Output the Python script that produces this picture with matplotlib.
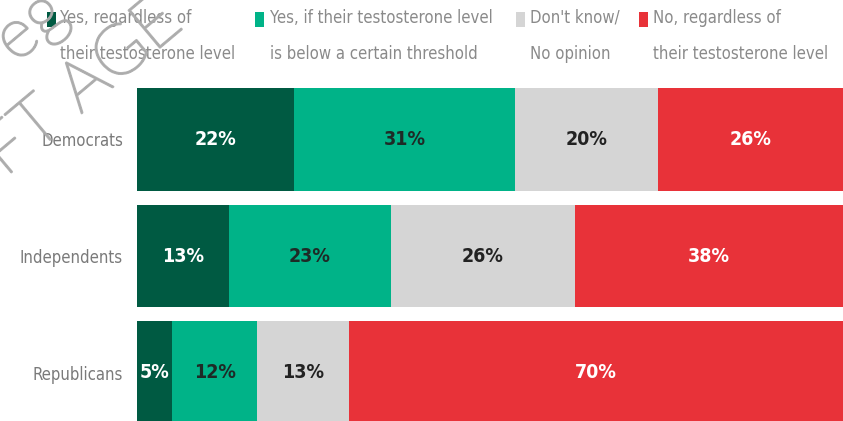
import matplotlib
matplotlib.use("Agg")
import matplotlib.pyplot as plt
import matplotlib.patheffects as pe
from matplotlib.patches import Rectangle
import numpy as np

categories = ["Democrats", "Independents", "Republicans"]
series_labels = [
    "Yes, regardless of\ntheir testosterone level",
    "Yes, if their testosterone level\nis below a certain threshold",
    "Don't know/\nNo opinion",
    "No, regardless of\ntheir testosterone level",
]
yes_regardless = [22, 13, 5]
yes_threshold = [31, 23, 12]
dont_know = [20, 26, 13]
no_regardless = [26, 38, 70]

colors = ["#005a42", "#00b388", "#d5d5d5", "#e83239"]
text_colors = ["white", "#1e2a26", "#222222", "white"]

W, H = 843, 421
fig = plt.figure(figsize=(W / 100, H / 100), dpi=100)

def fx(px):
    return px / W

def fy(py):
    return 1 - py / H

pitch = 116.5
top = 139.5 - 0.5 * pitch
bottom = top + 3 * pitch
ax = fig.add_axes([fx(137), fy(bottom), fx(843) - fx(137), (bottom - top) / H])

data = np.array([yes_regardless, yes_threshold, dont_know, no_regardless], dtype=float)
totals = data.sum(axis=0)
shares = data / totals * 100

ypos = np.arange(len(categories))
left = np.zeros(len(categories))
for i in range(len(series_labels)):
    ax.barh(ypos, shares[i], left=left, height=0.884, color=colors[i], edgecolor="none")
    for j in range(len(categories)):
        ax.text(left[j] + shares[i][j] / 2, ypos[j], f"{int(data[i][j])}%",
                ha="center", va="center", fontsize=14, fontweight="bold",
                fontstretch="condensed", family="DejaVu Sans", color=text_colors[i])
    left += shares[i]

ax.set_xlim(0, 100)
ax.set_ylim(2.5, -0.5)
ax.set_yticks(ypos)
ax.set_yticklabels(categories, fontsize=12, color="#7a7a7a", fontstretch="condensed")
ax.tick_params(axis="y", length=0, pad=10)
ax.set_xticks([])
for s in ax.spines.values():
    s.set_visible(False)

# legend
marker_x = [47, 255, 516, 639]
text_x = [60, 270, 530, 653]
for i, lab in enumerate(series_labels):
    fig.patches.append(Rectangle((fx(marker_x[i]), fy(27)), fx(9), 15 / H,
                                 transform=fig.transFigure, facecolor=colors[i],
                                 edgecolor="none"))
    fig.text(fx(text_x[i]), fy(36), lab, ha="left", va="center", fontsize=12,
             color="#8a8a8a", linespacing=2.3, fontstretch="condensed")

# watermark
wm_color = "#ababab"
wm = dict(color=wm_color, fontsize=50, rotation=40, rotation_mode="anchor",
          ha="center", va="center", family=["Lato", "DejaVu Sans"], fontweight="light",
          alpha=0.9,
          path_effects=[pe.Stroke(linewidth=1.6, foreground=wm_color), pe.Normal()])
fig.text(fx(83), fy(88), "FT AGE", **wm)
fig.text(fx(31), fy(27), "eg", **wm)

fig.savefig("out.png", dpi=100)
